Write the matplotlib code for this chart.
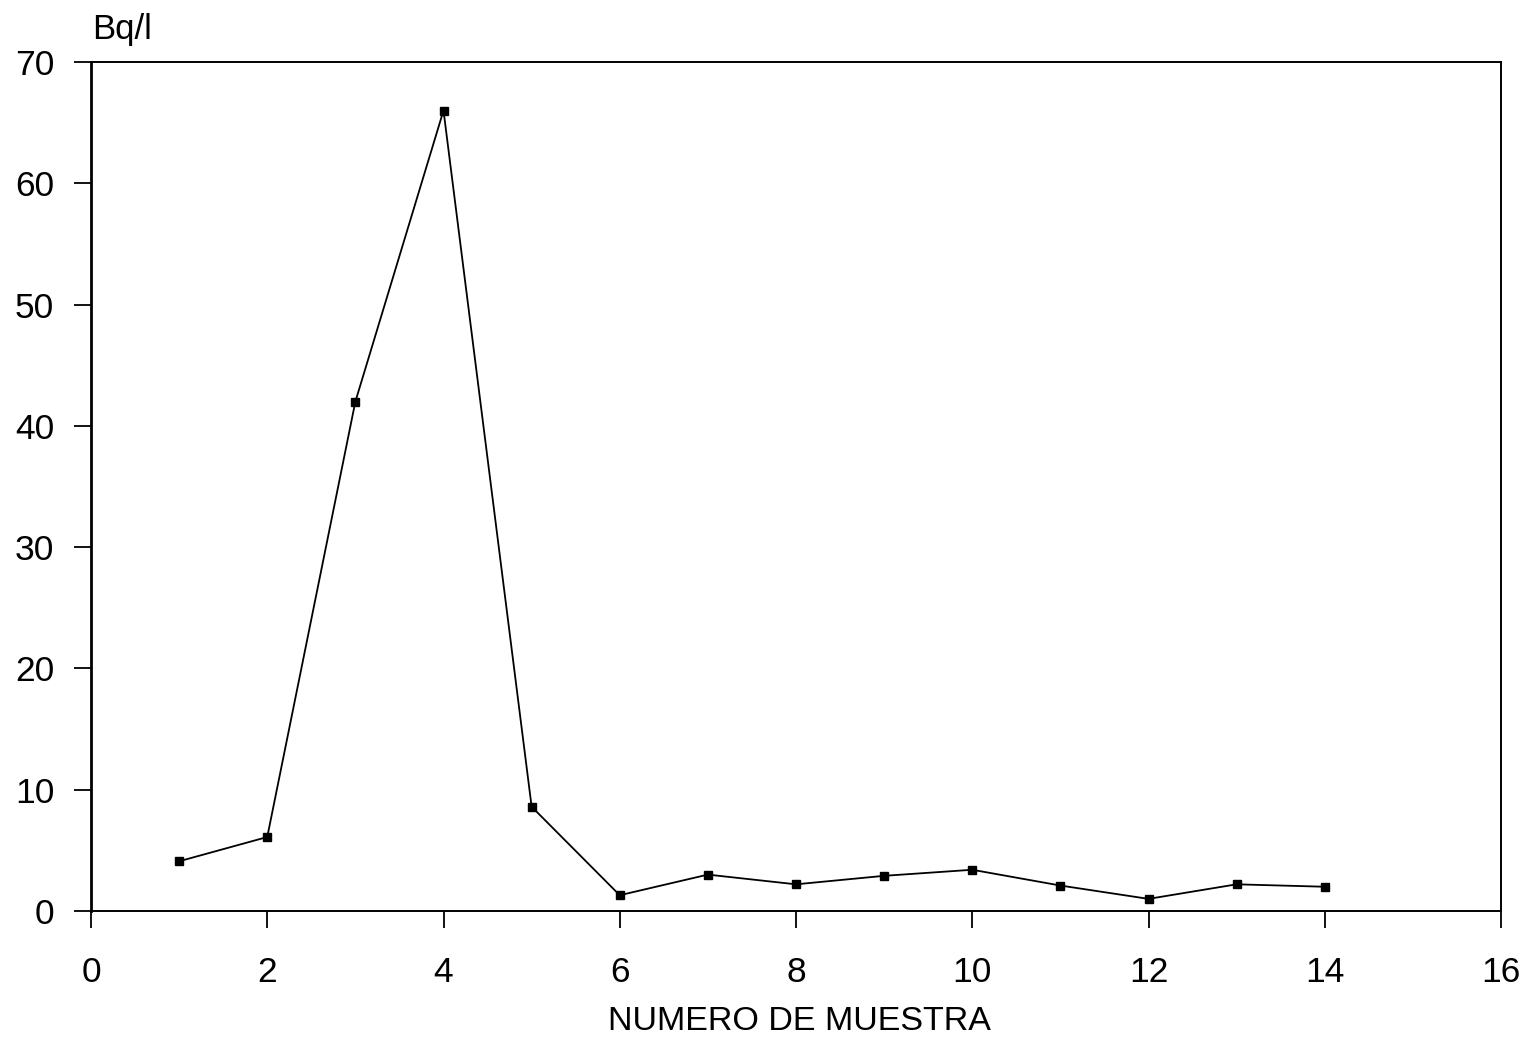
import matplotlib
matplotlib.use("Agg")
import matplotlib.pyplot as plt

muestra = [1, 2, 3, 4, 5, 6, 7, 8, 9, 10, 11, 12, 13, 14]
actividad = [4.1, 6.1, 42.0, 66.0, 8.6, 1.3, 3.0, 2.2, 2.9, 3.4, 2.1, 1.0, 2.2, 2.0]
xticks = [0, 2, 4, 6, 8, 10, 12, 14, 16]
yticks = [0, 10, 20, 30, 40, 50, 60, 70]

plt.rcParams['font.family'] = ['Liberation Sans', 'DejaVu Sans']

fig = plt.figure(figsize=(15.29, 10.39), dpi=100)
ax = fig.add_axes([91/1529, 1-911/1039, (1501-91)/1529, (911-62)/1039])
ax.plot(muestra, actividad, color='black', lw=1.3, marker='s', ms=6,
        markerfacecolor='black', markeredgecolor='black')
ax.set_xlim(0, 16)
ax.set_ylim(0, 70)
ax.set_xticks(xticks)
ax.set_yticks(yticks)
ax.tick_params(direction='out', length=12.5, width=1.3, labelsize=25.5, colors='black')
ax.tick_params(axis='y', pad=14)
ax.tick_params(axis='x', pad=20)
for s in ax.spines.values():
    s.set_linewidth(1.4)
ax.spines['left'].set_linewidth(2.0)

fig.text(92/1529, 1-30/1039, 'Bq/l', fontsize=25, ha='left', va='center')
fig.text(799/1529, 1-1021/1039, 'NUMERO DE MUESTRA', fontsize=24.5, ha='center', va='center')

fig.savefig('out.png', dpi=100, facecolor='white')
